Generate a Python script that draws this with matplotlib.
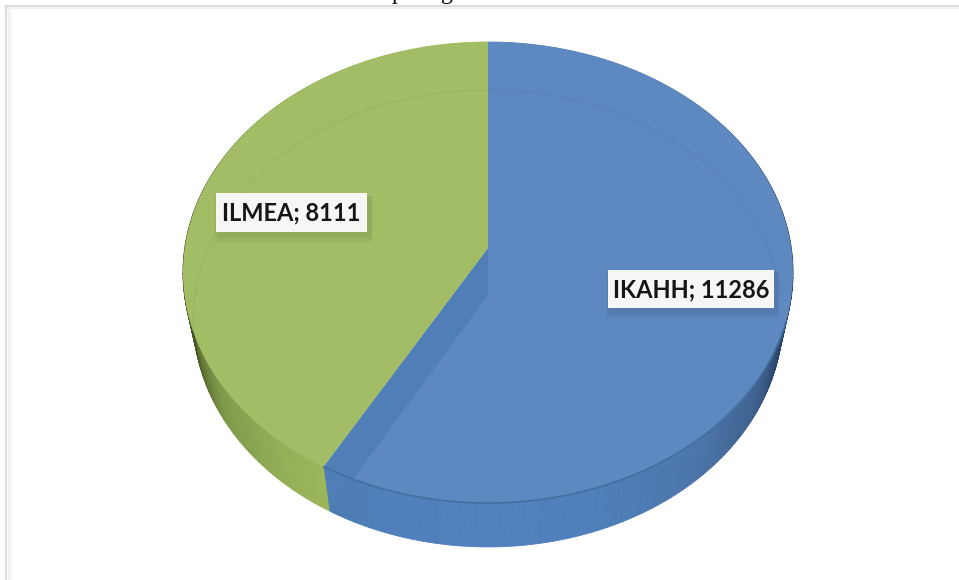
import numpy as np
import matplotlib
matplotlib.use("Agg")
import matplotlib.pyplot as plt
from matplotlib.patches import Rectangle
from matplotlib.transforms import Transform

categories = ["IKAHH", "ILMEA"]
values = [11286, 8111]
top_colors = ["#5e89c0", "#a2bd66"]


class Perspective(Transform):
    """Maps the unit disc of the pie onto a tilted plane (output in pixels)."""
    input_dims = 2
    output_dims = 2
    has_inverse = False

    def __init__(self, cx, cy, c, a, k):
        super().__init__()
        self.cx, self.cy, self.c, self.a, self.k = cx, cy, c, a, k

    def transform_non_affine(self, values):
        xy = np.asarray(values, dtype=float)
        u, v = xy[:, 0], xy[:, 1]
        w = 1 + self.k * v
        return np.column_stack([self.cx + self.c * u / w,
                                (self.a * v + self.cy) / w])


top_plane = Perspective(488, 248, 303.3, -201.5, 0.1063)
low_plane = Perspective(488, 295, 293.0, -195.7, 0.1028)

fig = plt.figure(figsize=(9.59, 5.80), dpi=100)
ax = fig.add_axes([0, 0, 1, 1])

wedges, _ = ax.pie(values, startangle=90, counterclock=False, colors=top_colors,
                   wedgeprops={"transform": top_plane + ax.transData,
                               "linewidth": 0})
ax.set_xlim(0, 959)
ax.set_ylim(580, 0)
ax.set_aspect("auto")
ax.axis("off")


def rim(plane, psi):
    return plane.transform_non_affine(np.column_stack([np.sin(psi), np.cos(psi)]))


fracs = np.array(values, dtype=float) / np.sum(values)
edges = np.concatenate([[0], np.cumsum(fracs)]) * 2 * np.pi

stops = np.array([0.0, 0.3, 0.63, 0.84, 0.94, 1.0])
wall_stops = [
    np.array([[0x50, 0x81, 0xbc], [0x4f, 0x80, 0xbb], [0x4c, 0x76, 0xab],
              [0x3f, 0x62, 0x90], [0x2c, 0x46, 0x6c], [0x1e, 0x30, 0x50]]) / 255,
    np.array([[0xa6, 0xc0, 0x60], [0xa6, 0xc0, 0x60], [0x95, 0xaf, 0x56],
              [0x7f, 0x9a, 0x4a], [0x5a, 0x6e, 0x30], [0x38, 0x42, 0x1e]]) / 255,
]
for i in range(len(values)):
    psi = np.linspace(edges[i], edges[i + 1], int(360 * fracs[i]) + 1)
    t, b = rim(top_plane, psi), rim(low_plane, psi)
    for j in range(len(psi) - 1):
        mid = abs(np.sin((psi[j] + psi[j + 1]) / 2))
        col = [np.interp(mid, stops, wall_stops[i][:, n]) for n in range(3)]
        ax.fill([t[j, 0], t[j + 1, 0], b[j + 1, 0], b[j, 0]],
                [t[j, 1], t[j + 1, 1], b[j + 1, 1], b[j, 1]],
                color=col, lw=0.6, zorder=1)

# top faces; the blue one lies under the see-through inner wall
wedges[0].set_zorder(2)
wedges[1].set_zorder(4)

# see-through inner wall along the slice boundary
bp_t = rim(top_plane, np.array([edges[1]]))[0]
bp_b = rim(low_plane, np.array([edges[1]]))[0]
c_t = top_plane.transform_non_affine(np.array([[0.0, 0.0]]))[0]
c_b = low_plane.transform_non_affine(np.array([[0.0, 0.0]]))[0]
ax.fill([c_t[0], bp_t[0], bp_b[0], c_b[0]], [c_t[1], bp_t[1], bp_b[1], c_b[1]],
        color="#507eb7", lw=0, zorder=3)

# darker front rim of the blue top face
psi = np.linspace(np.pi * 0.6, edges[1], 200)
r = rim(top_plane, psi)
ax.plot(r[:, 0], r[:, 1], color="#41709f", lw=1.2, zorder=3)

# lower plane showing faintly through the top
psi = np.linspace(-np.pi * 0.5, np.pi * 0.5, 300)
r = rim(low_plane, psi)
ax.plot(r[:, 0], r[:, 1], color="black", alpha=0.035, lw=1.2, zorder=5)
psi = np.linspace(np.pi * 1.5, np.pi * 1.35, 60)
r = rim(low_plane, psi)
ax.plot(r[:, 0], r[:, 1], color="black", alpha=0.035, lw=1.2, zorder=5)

# data labels
boxes = [(608, 270, 166, 38), (216, 193, 151, 39)]
for cat, val, (bx, by, bw, bh) in zip(categories, values, boxes):
    for grow, alpha in [(8, 0.02), (6, 0.03), (3, 0.04)]:
        ax.add_patch(Rectangle((bx + 2 - grow / 2, by + 3), bw + grow, bh + grow,
                               fc="black", ec="none", alpha=alpha, zorder=6))
    ax.add_patch(Rectangle((bx, by), bw, bh, fc="#f6f6f4", ec="none", zorder=7))
    ax.text(bx + bw / 2, by + bh / 2 + 0.5, f"{cat}; {val}", ha="center", va="center",
            family="Lato", weight="bold", fontsize=17, color="#161616", zorder=8)

# page frame
ax.plot([6, 959], [6, 6], color="#dcdcdc", lw=1.6, zorder=0)
ax.plot([6, 959], [8, 8], color="#f1f1f1", lw=1.6, zorder=0)
ax.plot([6, 6], [6, 580], color="#dedede", lw=1.6, zorder=0)
ax.plot([8.5, 8.5], [8, 580], color="#f3f3f3", lw=2, zorder=0)

# clipped line of text above the picture
ax.text(397, -1, "p", family="Liberation Serif", fontsize=17, ha="center",
        va="baseline", color="black", clip_on=True)
ax.text(447, -1, "g", family="Liberation Serif", fontsize=17, ha="center",
        va="baseline", color="black", clip_on=True)

fig.savefig("out.png", dpi=100)
